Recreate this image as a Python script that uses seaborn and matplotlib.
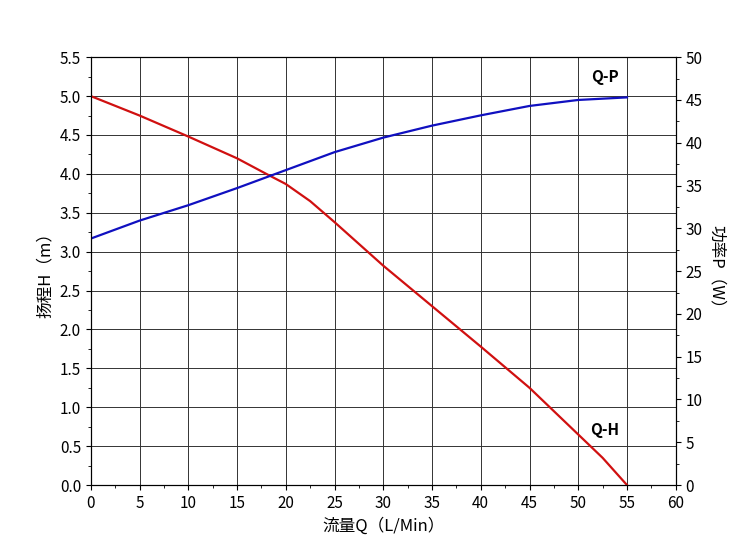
import matplotlib
matplotlib.use("Agg")
import matplotlib.pyplot as plt
from matplotlib import font_manager
import seaborn as sns
import numpy as np
from matplotlib.ticker import MultipleLocator

cjk = [f.name for f in font_manager.fontManager.ttflist if "CJK" in f.name]
cjk_name = "Noto Sans CJK SC" if "Noto Sans CJK SC" in cjk else (cjk[0] if cjk else "DejaVu Sans")
plt.rcParams["font.family"] = "sans-serif"
plt.rcParams["font.sans-serif"] = [cjk_name, "DejaVu Sans"]

q_h = [0, 5, 10, 15, 18, 20, 22.5, 25, 27.5, 30, 35, 40, 45, 50, 52.5, 55]
head = [5.0, 4.75, 4.48, 4.2, 4.0, 3.87, 3.65, 3.38, 3.1, 2.82, 2.3, 1.78, 1.25, 0.65, 0.35, 0.0]
q_p = [0, 5, 10, 15, 20, 25, 30, 35, 40, 45, 50, 55]
power = [28.8, 30.9, 32.7, 34.7, 36.8, 38.9, 40.6, 42.0, 43.2, 44.3, 45.0, 45.3]

fig = plt.figure(figsize=(7.5, 5.55), dpi=100)
ax = fig.add_axes([0.121, 0.126, 0.780, 0.771])
ax2 = ax.twinx()

sns.lineplot(x=q_h, y=head, ax=ax, color="#d01010", lw=1.6)
sns.lineplot(x=q_p, y=power, ax=ax2, color="#1010c0", lw=1.6)

ax.set_xlim(0, 60); ax.set_ylim(0, 5.5); ax2.set_ylim(0, 50)
ax.set_xticks(np.arange(0, 61, 5))
ax.set_yticks(np.arange(0, 5.51, 0.5))
ax.set_yticklabels([f"{v:.1f}" for v in np.arange(0, 5.51, 0.5)])
ax2.set_yticks(np.arange(0, 51, 5))
ax.yaxis.set_minor_locator(MultipleLocator(0.25))
ax.xaxis.set_minor_locator(MultipleLocator(2.5))
ax2.yaxis.set_minor_locator(MultipleLocator(2.5))
ax.grid(True, color="#333333", lw=0.7)
for a in (ax, ax2):
    a.tick_params(labelsize=11)
    for s in a.spines.values():
        s.set_color("black")
ax.set_xlabel("流量Q（L/Min）", fontsize=12)
ax.set_ylabel("扬程H（m）", fontsize=12)
ax2.set_ylabel("功率P（W）", fontsize=12, rotation=270, labelpad=16)
ax.text(52.7, 5.24, "Q-P", fontsize=11, fontweight="bold", ha="center", va="center")
ax.text(52.7, 0.71, "Q-H", fontsize=11, fontweight="bold", ha="center", va="center")
fig.savefig("out.png", dpi=100)
